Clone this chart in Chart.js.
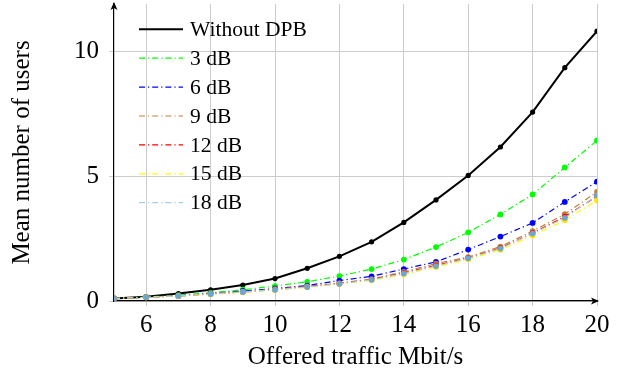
<!DOCTYPE html>
<html lang="en">
  <head>
    <meta charset="UTF-8" />
    <title>Mean number of users</title>
    <style>
      body { margin: 0; background: #fff; }
      #wrap { width: 628px; height: 374px; }
    </style>
  </head>
  <body>
    <div id="wrap"><canvas id="chart" width="628" height="374"></canvas></div>
    <script src="https://cdn.jsdelivr.net/npm/chart.js@4.4.0/dist/chart.umd.min.js"></script>
    <script>
      // offered traffic (Mbit/s)
      const traffic = [5, 6, 7, 8, 9, 10, 11, 12, 13, 14, 15, 16, 17, 18, 19, 20];
      const xTicks = [6, 8, 10, 12, 14, 16, 18, 20];
      const yTicks = [0, 5, 10];

      const seriesNames = ["Without DPB", "3 dB", "6 dB", "9 dB", "12 dB", "15 dB", "18 dB"];
      const withoutDpb = [0.1, 0.17, 0.3, 0.45, 0.64, 0.9, 1.31, 1.79, 2.37, 3.15, 4.05, 5.03, 6.17, 7.57, 9.35, 10.81];
      const db3 = [0.1, 0.16, 0.23, 0.33, 0.45, 0.6, 0.77, 1.0, 1.28, 1.66, 2.16, 2.75, 3.47, 4.27, 5.35, 6.43];
      const db6 = [0.1, 0.15, 0.21, 0.3, 0.4, 0.5, 0.62, 0.82, 0.99, 1.28, 1.57, 2.06, 2.58, 3.13, 3.97, 4.78];
      const db9 = [0.1, 0.15, 0.2, 0.29, 0.37, 0.47, 0.58, 0.72, 0.88, 1.17, 1.5, 1.76, 2.18, 2.8, 3.48, 4.37];
      const db12 = [0.1, 0.15, 0.2, 0.28, 0.36, 0.46, 0.57, 0.7, 0.86, 1.12, 1.43, 1.72, 2.12, 2.72, 3.38, 4.2];
      const db15 = [0.1, 0.15, 0.2, 0.27, 0.35, 0.44, 0.55, 0.68, 0.83, 1.07, 1.36, 1.67, 2.05, 2.62, 3.24, 4.03];
      const db18 = [0.1, 0.15, 0.2, 0.28, 0.36, 0.45, 0.56, 0.69, 0.85, 1.1, 1.4, 1.71, 2.1, 2.7, 3.33, 4.23];

      const allSeries = [withoutDpb, db3, db6, db9, db12, db15, db18];
      const lineColors = ["#000000", "#00ff00", "#0000ff", "#bf8040", "#ff0000", "#ffff00", "#a6cfe2"];
      const dotColors = ["#000000", "#00ff00", "#0000ff", "#bf8040", "#ff0000", "#ffe800", "#6fa6cb"];

      const serif = '"Liberation Serif", "DejaVu Serif", serif';
      Chart.defaults.font.family = serif;
      Chart.defaults.color = "#000";

      const datasets = allSeries.map((vals, i) => ({
        label: seriesNames[i],
        data: traffic.map((x, j) => ({ x: x, y: vals[j] })),
        borderColor: lineColors[i],
        backgroundColor: dotColors[i],
        pointBackgroundColor: dotColors[i],
        pointBorderWidth: 0,
        pointRadius: i === 0 ? 2.6 : 2.9,
        borderWidth: i === 0 ? 2 : 1.2,
        borderDash: i === 0 ? [] : [6, 3, 1.2, 3],
        tension: 0,
        order: 10 - i,
      }));

      // legend drawn inside the plot, like the original
      const innerLegend = {
        id: "innerLegend",
        afterDatasetsDraw(chart) {
          const ctx = chart.ctx;
          chart.data.datasets.forEach((ds, i) => {
            const y = 29.3 + i * 28.9;
            ctx.save();
            ctx.strokeStyle = ds.borderColor;
            ctx.lineWidth = ds.borderWidth;
            ctx.setLineDash(ds.borderDash);
            ctx.beginPath();
            ctx.moveTo(139, y);
            ctx.lineTo(183, y);
            ctx.stroke();
            ctx.setLineDash([]);
            ctx.fillStyle = "#000";
            ctx.font = "21.5px " + serif;
            ctx.textBaseline = "middle";
            ctx.fillText(ds.label, 190, y + 1);
            ctx.restore();
          });
        },
      };

      // arrow tips on the axes
      const axisArrows = {
        id: "axisArrows",
        afterDraw(chart) {
          const { ctx, chartArea: a } = chart;
          ctx.save();
          ctx.fillStyle = "#000";
          ctx.beginPath();
          ctx.moveTo(a.right + 2, a.bottom);
          ctx.lineTo(a.right - 6, a.bottom - 3.5);
          ctx.lineTo(a.right - 4, a.bottom);
          ctx.lineTo(a.right - 6, a.bottom + 3.5);
          ctx.closePath();
          ctx.fill();
          ctx.beginPath();
          ctx.moveTo(a.left, a.top - 2);
          ctx.lineTo(a.left - 3.5, a.top + 6);
          ctx.lineTo(a.left, a.top + 4);
          ctx.lineTo(a.left + 3.5, a.top + 6);
          ctx.closePath();
          ctx.fill();
          ctx.restore();
        },
      };

      new Chart(document.getElementById("chart"), {
        type: "line",
        data: { datasets: datasets },
        options: {
          responsive: false,
          animation: false,
          layout: { padding: { top: 2, right: 31, bottom: 0, left: 0 } },
          plugins: { legend: { display: false }, tooltip: { enabled: false } },
          scales: {
            x: {
              type: "linear",
              min: 5,
              max: 20,
              afterBuildTicks: (s) => { s.ticks = xTicks.map((v) => ({ value: v })); },
              afterFit: (s) => { s.height = 73; s.paddingLeft = 0; s.paddingRight = 0; },
              ticks: { font: { size: 25 }, padding: 4, maxRotation: 0 },
              grid: { color: "#cccccc", lineWidth: 1, tickLength: 5 },
              border: { color: "#000", width: 1.2 },
              title: { display: true, text: "Offered traffic Mbit/s", font: { size: 25 }, padding: { top: 0, bottom: 2 } },
            },
            y: {
              min: 0,
              max: 11.9,
              afterBuildTicks: (s) => { s.ticks = yTicks.map((v) => ({ value: v })); },
              afterFit: (s) => { s.width = 114; s.paddingTop = 0; s.paddingBottom = 0; },
              ticks: { font: { size: 25 }, padding: 10 },
              grid: { color: "#cccccc", lineWidth: 1, tickLength: 5 },
              border: { color: "#000", width: 1.2 },
              title: { display: true, text: "Mean number of users", font: { size: 25 }, padding: { top: 7, bottom: 0 } },
            },
          },
        },
        plugins: [innerLegend, axisArrows],
      });
    </script>
  </body>
</html>
